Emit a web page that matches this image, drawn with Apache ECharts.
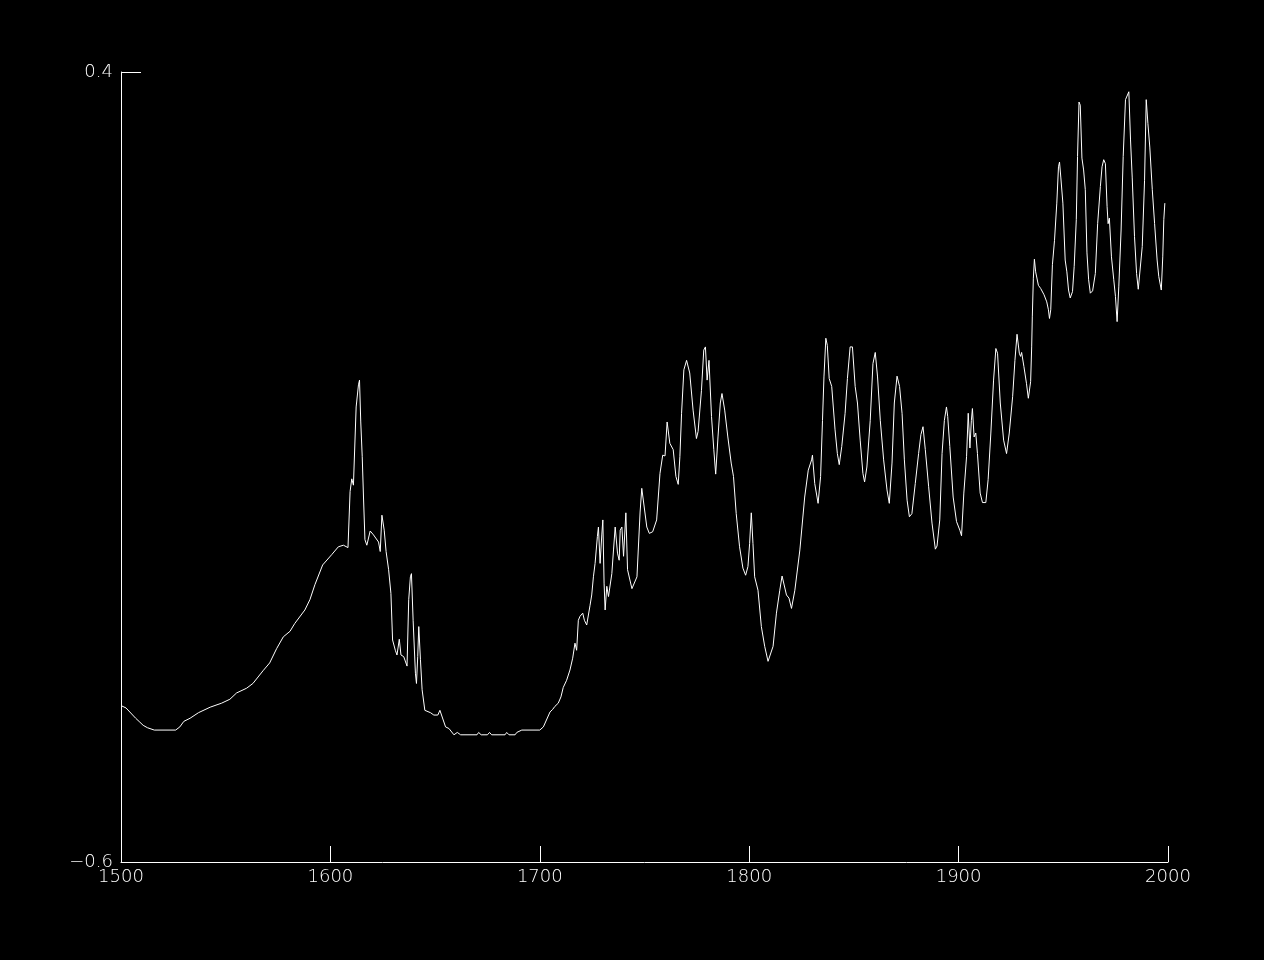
<!DOCTYPE html>
<html>
<head>
<meta charset="utf-8">
<script src="https://cdn.jsdelivr.net/npm/echarts@6/dist/echarts.min.js"></script>
<style>
html,body{margin:0;padding:0;background:#000;}
#chart{width:1264px;height:960px;}
</style>
</head>
<body>
<div id="chart"></div>
<script>
const years = [
1500.0,1502.4,1507.0,1509.0,1510.6,1512.6,1515.9,1526.1,1528.1,1530.0,1533.0,1537.0,1542.6,1548.0,1552.0,1555.2,1560.0,1563.0,1567.8,1571.0,
1574.3,1577.5,1580.7,1583.0,1587.8,1590.2,1592.6,1596.3,1600.6,1603.8,1606.2,1608.4,1609.4,1610.2,1611.0,1611.3,1612.3,1613.4,1613.9,1614.5,
1615.2,1615.8,1616.5,1617.4,1619.0,1620.6,1623.0,1623.8,1624.6,1625.7,1626.6,1627.8,1628.9,1629.7,1631.0,1631.8,1632.9,1633.7,1635.0,1636.6,
1637.4,1638.2,1638.7,1639.5,1640.6,1641.1,1641.7,1642.2,1643.0,1643.8,1645.1,1647.8,1649.4,1651.3,1652.3,1655.0,1656.6,1659.0,1660.6,1662.2,
1670.0,1670.8,1672.0,1675.0,1676.0,1677.0,1683.4,1684.2,1685.3,1688.2,1689.0,1691.4,1700.0,1701.7,1704.9,1706.1,1707.2,1708.8,1710.1,1711.2,
1712.8,1714.4,1715.7,1716.8,1717.6,1718.4,1719.2,1720.5,1721.3,1722.4,1724.0,1724.8,1725.6,1726.4,1727.5,1728.0,1728.8,1729.6,1730.1,1730.7,
1731.2,1732.0,1732.8,1734.4,1735.2,1736.0,1737.1,1737.9,1738.4,1739.2,1740.0,1741.1,1741.9,1744.0,1746.4,1747.9,1748.7,1749.5,1751.1,1752.3,
1753.9,1755.8,1757.4,1758.7,1759.8,1760.8,1762.1,1763.7,1765.0,1766.1,1766.9,1767.7,1768.8,1770.1,1771.6,1773.2,1774.8,1775.6,1777.2,1778.3,
1779.1,1779.9,1780.8,1782.0,1783.1,1784.0,1785.1,1786.2,1787.0,1788.3,1789.8,1791.4,1792.5,1793.8,1795.4,1797.0,1798.3,1799.4,1800.2,1801.0,
1801.8,1802.6,1804.2,1805.8,1807.4,1809.0,1809.8,1811.4,1813.0,1814.6,1815.7,1817.8,1819.0,1820.2,1821.8,1824.2,1826.5,1828.2,1829.8,1830.2,
1831.3,1832.9,1834.1,1835.0,1835.7,1836.6,1837.3,1838.2,1839.4,1841.0,1842.1,1843.0,1844.2,1845.8,1846.9,1848.2,1849.3,1850.6,1851.7,1853.0,
1854.3,1855.1,1856.2,1857.8,1859.1,1860.2,1861.3,1862.6,1864.2,1865.8,1866.9,1868.2,1869.3,1870.6,1871.8,1873.0,1874.1,1875.4,1876.5,1877.7,
1879.3,1880.9,1882.0,1883.0,1884.1,1885.7,1887.3,1888.9,1889.7,1891.0,1892.1,1893.2,1894.2,1894.8,1895.8,1897.4,1899.0,1900.6,1901.4,1902.5,
1903.8,1904.6,1905.4,1906.1,1906.6,1907.4,1908.2,1909.0,1910.3,1911.4,1913.0,1914.1,1915.4,1916.7,1917.8,1918.6,1919.9,1921.5,1922.9,1924.2,
1925.8,1926.9,1927.9,1929.0,1929.6,1930.1,1931.2,1932.4,1933.3,1933.6,1934.4,1934.9,1935.2,1935.7,1936.2,1936.8,1938.1,1939.2,1940.8,1942.1,
1942.9,1943.4,1944.0,1944.8,1945.8,1946.9,1947.7,1948.2,1948.8,1949.8,1950.9,1951.7,1952.5,1953.3,1954.4,1955.2,1956.2,1956.8,1957.5,1958.1,
1958.9,1959.7,1960.5,1961.3,1962.1,1962.9,1964.0,1965.3,1966.4,1967.7,1968.5,1969.3,1970.1,1970.9,1971.4,1972.0,1973.0,1974.1,1974.9,1975.7,
1976.5,1977.6,1978.6,1979.7,1981.3,1982.1,1982.9,1984.0,1985.0,1985.8,1986.5,1987.7,1988.8,1989.6,1990.4,1991.3,1992.5,1993.6,1994.8,1995.6,
1996.8,1997.5,1998.0,1998.5
];
const values = [
-0.402,-0.405,-0.418,-0.423,-0.427,-0.430,-0.433,-0.433,-0.429,-0.422,-0.418,-0.411,-0.404,-0.399,-0.394,-0.386,-0.380,-0.374,-0.358,-0.348,
-0.330,-0.315,-0.308,-0.298,-0.281,-0.268,-0.249,-0.224,-0.211,-0.201,-0.199,-0.202,-0.131,-0.115,-0.123,-0.100,-0.024,0.004,0.010,-0.043,
-0.087,-0.138,-0.192,-0.199,-0.181,-0.186,-0.195,-0.207,-0.161,-0.180,-0.207,-0.230,-0.260,-0.319,-0.332,-0.338,-0.318,-0.338,-0.340,-0.352,
-0.268,-0.239,-0.235,-0.294,-0.361,-0.374,-0.340,-0.302,-0.344,-0.382,-0.408,-0.411,-0.414,-0.414,-0.408,-0.429,-0.431,-0.439,-0.436,-0.439,
-0.439,-0.436,-0.439,-0.439,-0.436,-0.439,-0.439,-0.436,-0.439,-0.439,-0.436,-0.433,-0.433,-0.429,-0.410,-0.407,-0.403,-0.399,-0.391,-0.379,
-0.370,-0.357,-0.342,-0.323,-0.332,-0.294,-0.289,-0.285,-0.294,-0.300,-0.275,-0.262,-0.239,-0.222,-0.188,-0.176,-0.222,-0.186,-0.167,-0.247,
-0.281,-0.251,-0.264,-0.235,-0.205,-0.176,-0.209,-0.218,-0.180,-0.176,-0.213,-0.158,-0.230,-0.254,-0.239,-0.157,-0.127,-0.127,-0.176,-0.184,
-0.182,-0.167,-0.108,-0.085,-0.086,-0.043,-0.070,-0.078,-0.112,-0.122,-0.087,-0.032,0.023,0.035,0.019,-0.028,-0.064,-0.055,-0.003,0.048,
0.052,0.010,0.035,-0.036,-0.078,-0.109,-0.062,-0.019,-0.007,-0.028,-0.062,-0.095,-0.112,-0.159,-0.201,-0.228,-0.237,-0.226,-0.197,-0.158,
-0.197,-0.239,-0.256,-0.302,-0.327,-0.346,-0.348,-0.327,-0.285,-0.256,-0.238,-0.262,-0.266,-0.279,-0.256,-0.205,-0.138,-0.104,-0.091,-0.085,
-0.121,-0.146,-0.112,-0.041,0.014,0.063,0.054,0.012,0.002,-0.053,-0.083,-0.097,-0.074,-0.032,0.012,0.052,0.052,0.002,-0.019,-0.066,
-0.108,-0.119,-0.100,-0.041,0.031,0.045,0.014,-0.041,-0.091,-0.129,-0.146,-0.095,-0.019,0.015,0.002,-0.032,-0.091,-0.142,-0.163,-0.159,
-0.121,-0.083,-0.059,-0.049,-0.078,-0.125,-0.171,-0.204,-0.200,-0.167,-0.083,-0.041,-0.024,-0.036,-0.074,-0.138,-0.169,-0.180,-0.187,-0.133,
-0.087,-0.032,-0.076,-0.041,-0.026,-0.062,-0.057,-0.083,-0.133,-0.145,-0.145,-0.116,-0.057,0.010,0.050,0.044,-0.019,-0.066,-0.083,-0.057,
-0.011,0.035,0.068,0.044,0.040,0.045,0.027,0.006,-0.013,-0.015,0.008,0.052,0.090,0.139,0.163,0.147,0.130,0.126,0.118,0.109,
0.099,0.088,0.099,0.156,0.187,0.234,0.280,0.286,0.267,0.234,0.162,0.147,0.124,0.114,0.122,0.154,0.213,0.293,0.362,0.358,
0.291,0.276,0.251,0.171,0.137,0.120,0.123,0.145,0.208,0.255,0.280,0.289,0.284,0.230,0.208,0.215,0.166,0.137,0.116,0.084,
0.128,0.200,0.293,0.365,0.375,0.314,0.267,0.192,0.145,0.125,0.125,0.179,0.263,0.365,0.335,0.305,0.251,0.208,0.162,0.141,
0.124,0.166,0.213,0.234
];
const xTicks = [1500, 1600, 1700, 1800, 1900, 2000];
const yTickLabels = [-0.6, 0.4];

const seriesData = years.map((y, i) => [y, values[i]]);
const chart = echarts.init(document.getElementById('chart'), null, {renderer: 'canvas'});
const labelFont = {color: '#fff', fontFamily: 'DejaVu Sans', fontSize: 18, fontWeight: 200};
chart.setOption({
  backgroundColor: '#000',
  animation: false,
  grid: {left: 121, right: 96, top: 72, bottom: 98, containLabel: false},
  xAxis: {
    type: 'value', min: 1500, max: 2000, interval: 100,
    splitLine: {show: false},
    axisLine: {show: true, onZero: false, lineStyle: {color: '#fff', width: 1}},
    axisTick: {show: true, inside: true, length: 16, lineStyle: {color: '#fff', width: 1}, customValues: xTicks},
    axisLabel: Object.assign({margin: 6, customValues: xTicks, formatter: v => String(v)}, labelFont)
  },
  yAxis: {
    type: 'value', min: -0.6, max: 0.4, interval: 0.2,
    splitLine: {show: false},
    axisLine: {show: true, onZero: false, lineStyle: {color: '#fff', width: 1}},
    axisTick: {show: true, inside: true, length: 20, lineStyle: {color: '#fff', width: 1}, customValues: yTickLabels},
    axisLabel: Object.assign({margin: 8, customValues: yTickLabels,
      formatter: v => (Math.round(v * 10) / 10).toFixed(1).replace('-', '\u2212')}, labelFont)
  },
  series: [{
    type: 'line', data: seriesData, showSymbol: false, symbol: 'none',
    lineStyle: {color: '#fff', width: 1}, smooth: false
  }]
});
</script>
</body>
</html>
